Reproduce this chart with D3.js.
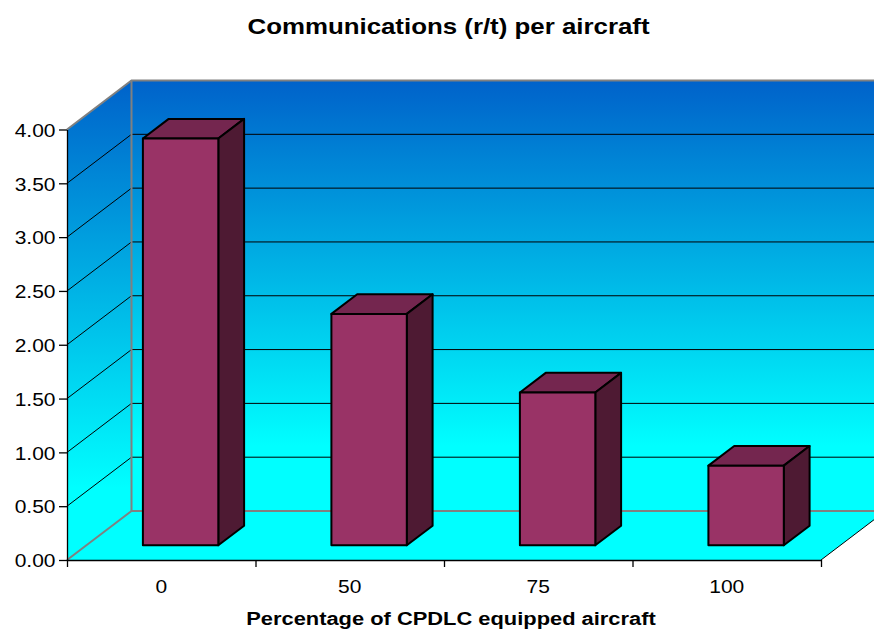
<!DOCTYPE html>
<html>
<head>
<meta charset="utf-8">
<script src="https://cdn.jsdelivr.net/npm/d3@7"></script>
<style>
  html, body { margin: 0; padding: 0; background: #fff; }
  svg { display: block; }
  text { font-family: "Liberation Sans", Arial, sans-serif; fill: #000; }
</style>
</head>
<body>
<svg id="chart" width="874" height="630"></svg>
<script>
// Communications (r/t) per aircraft by CPDLC equipage
const categories = ["0", "50", "75", "100"];
const values = [3.78, 2.15, 1.42, 0.74];
const yTickValues = [0, 0.5, 1, 1.5, 2, 2.5, 3, 3.5, 4];
const titleText = "Communications (r/t) per aircraft";
const xTitleText = "Percentage of CPDLC equipped aircraft";

const svg = d3.select("#chart");

// front plane of the 3-D plot area
const plotLeft = 67, plotRight = 821, plotBottom = 560, plotTop = 129.5;
// oblique depth vector (front plane -> back wall)
const depth = { dx: 64.5, dy: -49 };
const barZ0 = 0.3, barZ1 = 0.7;
const textStretch = 1.13;

const y = d3.scaleLinear().domain([0, 4]).range([plotBottom, plotTop]);
const x = d3.scaleBand().domain(categories).range([plotLeft, plotRight])
  .paddingInner(0.6).paddingOuter(0.3);
const xEdges = d3.scaleLinear().domain([0, categories.length]).range([plotLeft, plotRight]);

const pt = (px, py, z) => [px + depth.dx * z, py + depth.dy * z];
const poly = pts => "M" + pts.map(p => p.join(",")).join("L") + "Z";

// wall gradient
const defs = svg.append("defs");
const grad = defs.append("linearGradient").attr("id", "wallGrad")
  .attr("x1", 0).attr("y1", 0).attr("x2", 0).attr("y2", 1);
grad.append("stop").attr("offset", "0%").attr("stop-color", "#0062CA");
grad.append("stop").attr("offset", "85%").attr("stop-color", "#00FFFF");
grad.append("stop").attr("offset", "100%").attr("stop-color", "#00FFFF");

const y0 = y(0), yMax = y(4);
const backLeft = plotLeft + depth.dx, backRight = plotRight + depth.dx;

// back wall
svg.append("path")
  .attr("d", poly([pt(plotLeft, yMax, 1), pt(plotRight, yMax, 1), pt(plotRight, y0, 1), pt(plotLeft, y0, 1)]))
  .attr("fill", "url(#wallGrad)");
// side wall
svg.append("path")
  .attr("d", poly([[plotLeft, yMax], pt(plotLeft, yMax, 1), pt(plotLeft, y0, 1), [plotLeft, y0]]))
  .attr("fill", "url(#wallGrad)");
// floor
svg.append("path")
  .attr("d", poly([[plotLeft, y0], pt(plotLeft, y0, 1), pt(plotRight, y0, 1), [plotRight, y0]]))
  .attr("fill", "#00FFFF");

// gridlines on the back wall and side wall
const inner = yTickValues.filter(v => v > 0 && v < 4);
const grid = svg.append("g").attr("stroke", "#000").attr("stroke-width", 1);
grid.selectAll("line.back").data(inner).join("line").attr("class", "back")
  .attr("x1", backLeft).attr("x2", backRight)
  .attr("y1", d => y(d) + depth.dy).attr("y2", d => y(d) + depth.dy);
grid.selectAll("line.side").data(inner).join("line").attr("class", "side")
  .attr("x1", plotLeft).attr("y1", d => y(d))
  .attr("x2", backLeft).attr("y2", d => y(d) + depth.dy);

// wall edges
const edges = svg.append("g").attr("stroke", "#808080").attr("stroke-width", 2).attr("fill", "none");
edges.append("path").attr("d", "M" + [plotLeft, yMax] + "L" + pt(plotLeft, yMax, 1) + "L" + pt(plotRight, yMax, 1));
edges.append("path").attr("d", "M" + pt(plotLeft, yMax, 1) + "L" + pt(plotLeft, y0, 1) + "L" + pt(plotRight, y0, 1));
edges.append("path").attr("d", "M" + [plotLeft, y0] + "L" + pt(plotLeft, y0, 1));
// floor right edge
svg.append("line").attr("stroke", "#000").attr("stroke-width", 1)
  .attr("x1", plotRight).attr("y1", y0).attr("x2", plotRight + depth.dx).attr("y2", y0 + depth.dy);

// bars
const bars = svg.append("g").attr("stroke", "#000").attr("stroke-width", 2)
  .attr("stroke-linejoin", "round");
categories.forEach((c, i) => {
  const v = values[i];
  const xl = x(c), xr = x(c) + x.bandwidth();
  const yt = y(v), yb = y(0);
  const g = bars.append("g");
  // top face
  g.append("path").attr("fill", "#74264F")
    .attr("d", poly([pt(xl, yt, barZ0), pt(xl, yt, barZ1), pt(xr, yt, barZ1), pt(xr, yt, barZ0)]));
  // side face
  g.append("path").attr("fill", "#4E1A33")
    .attr("d", poly([pt(xr, yt, barZ0), pt(xr, yt, barZ1), pt(xr, yb, barZ1), pt(xr, yb, barZ0)]));
  // front face
  g.append("path").attr("fill", "#993366")
    .attr("d", poly([pt(xl, yt, barZ0), pt(xr, yt, barZ0), pt(xr, yb, barZ0), pt(xl, yb, barZ0)]));
});

// y axis
const yAxis = svg.append("g").attr("transform", `translate(${plotLeft},0)`)
  .call(d3.axisLeft(y).tickValues(yTickValues).tickFormat(d3.format(".2f"))
    .tickSize(8).tickSizeOuter(0));
yAxis.select(".domain").attr("stroke", "#000").attr("stroke-width", 1.3);
yAxis.selectAll(".tick line").attr("stroke", "#000").attr("stroke-width", 1.3);
yAxis.selectAll(".tick text")
  .attr("x", -11.5 / textStretch).attr("dy", "0.36em")
  .attr("transform", `scale(${textStretch},1)`)
  .style("font-size", "18.6px").style("font-family", "'Liberation Sans', Arial, sans-serif");

// x axis line with tick marks at category boundaries
const xAxisTicks = svg.append("g").attr("transform", `translate(0,${plotBottom})`)
  .call(d3.axisBottom(xEdges).tickValues(d3.range(categories.length + 1))
    .tickFormat("").tickSize(7).tickSizeOuter(0));
xAxisTicks.select(".domain").attr("stroke", "#000").attr("stroke-width", 1.3);
xAxisTicks.selectAll(".tick line").attr("stroke", "#000").attr("stroke-width", 1.3);

// category labels
const xAxisLabels = svg.append("g").attr("transform", `translate(0,${plotBottom})`)
  .call(d3.axisBottom(x).tickSize(0).tickPadding(20));
xAxisLabels.select(".domain").remove();
xAxisLabels.selectAll(".tick text")
  .attr("transform", `scale(${textStretch},1)`)
  .style("font-size", "18.6px").style("font-family", "'Liberation Sans', Arial, sans-serif");

// titles
svg.append("text")
  .attr("transform", `translate(448.5,34) scale(1.16,1)`)
  .attr("text-anchor", "middle")
  .style("font-size", "22.3px").style("font-weight", "bold")
  .text(titleText);
svg.append("text")
  .attr("transform", `translate(451,625) scale(1.17,1)`)
  .attr("text-anchor", "middle")
  .style("font-size", "18.7px").style("font-weight", "bold")
  .text(xTitleText);
</script>
</body>
</html>
